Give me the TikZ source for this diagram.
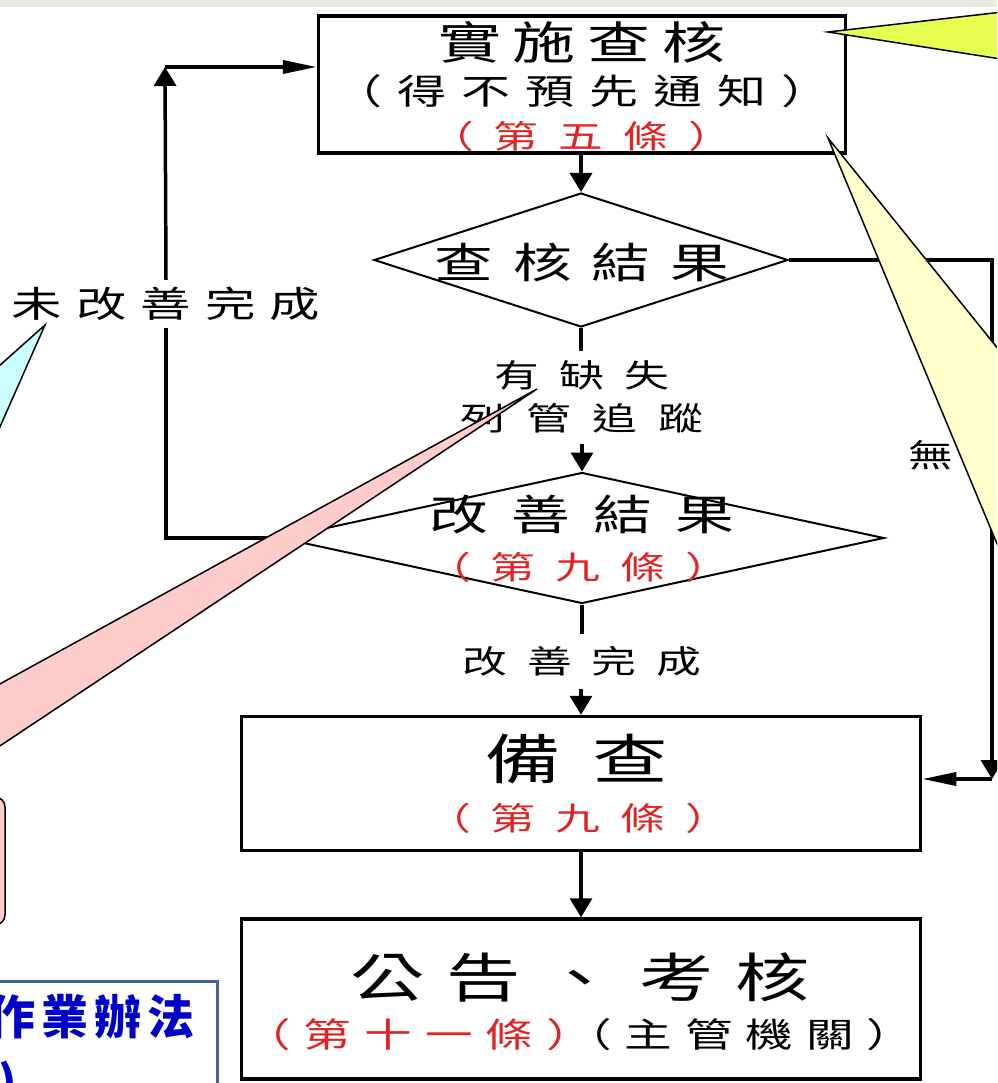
\documentclass[tikz,border=0pt]{standalone}
\usepackage{fontspec}
\usetikzlibrary{shapes.geometric,arrows.meta}
\newfontfamily\cjk[FakeStretch=1.4]{Noto Sans CJK TC}
\newfontfamily\cjkb{Noto Sans CJK TC}
\definecolor{chred}{RGB}{225,35,35}
\definecolor{beigec}{RGB}{236,233,223}
\definecolor{ygc}{RGB}{230,255,80}
\definecolor{lyc}{RGB}{255,255,204}
\definecolor{cyc}{RGB}{204,255,255}
\definecolor{pkc}{RGB}{255,204,204}
\definecolor{bbord}{RGB}{70,100,145}
\definecolor{btxt}{RGB}{0,0,200}
\makeatletter
\newcommand\spx[2]{\@tfor\spx@c:=#2\do{\spx@c\kern#1}\unkern}
\makeatother
\newcommand\fsz[2]{\fontsize{#1}{#2}\selectfont}
\tikzset{
  box/.style={draw, line width=3.5pt, inner sep=0pt},
  dia/.style={draw, diamond, line width=2pt, inner sep=0pt},
  ln/.style={line width=3.5pt},
  varr/.style={line width=3.5pt, -{Triangle[length=19pt,width=22pt]}},
  harr/.style={line width=3.5pt, -{Triangle[length=34pt,width=13pt]}},
  txt/.style={inner sep=0pt},
  lab/.style={inner xsep=4pt},
  callout/.style={draw, line width=1.5pt, line join=miter},
}
\begin{document}
\begin{tikzpicture}[x=1pt,y=-1pt]
\useasboundingbox (0,0) rectangle (997,1083);
\clip (0,0) rectangle (997,1083);
\fill[white] (0,0) rectangle (997,1083);
\fill[beigec] (0,0) rectangle (997,7);

% shapes
\node[box, minimum width=527, minimum height=137] (b1) at (582,84.5) {};
\node[dia, minimum width=414, minimum height=134] (d1) at (581,260) {};
\node[dia, minimum width=604, minimum height=131] (d2) at (582,538) {};
\node[box, minimum width=679, minimum height=134] (b3) at (581,783.5) {};
\node[box, minimum width=679, minimum height=160] (b4) at (581,999) {};

% labels on connectors
\node[lab, inner ysep=10pt, font=\cjk\fsz{32}{43}, align=center] (l1) at (582,397)
  {\spx{20pt}{有缺失}\\\spx{21pt}{列管追蹤}};
\node[lab, inner ysep=12pt, font=\cjk\fsz{32}{36}] (l2) at (582,661.5) {\spx{20pt}{改善完成}};
\node[lab, inner ysep=7pt, font=\cjk\fsz{36}{40}] (l3) at (166,304) {\spx{14pt}{未改善完成}};
\coordinate (c1) at (165,67);
\coordinate (c2) at (992,779);

% connectors
\draw[varr] (b1.south -| d1.north) -- (d1.north);
\draw[ln] (d1.south) -- (d1.south |- l1.north);
\draw[varr] (l1.south -| d2.north) -- (d2.north);
\draw[ln] (d2.south) -- (d2.south |- l2.north);
\draw[varr] (l2.south -| b3.north) -- (b3.north);
\draw[varr] (b3.south) -- (b4.north);
\draw[ln] (d2.west) -- (d2.west -| l3.south) -- (l3.south);
\draw[varr] (l3.north) -- (c1);
\draw[harr] (c1) -- (c1 -| b1.west);
\draw[varr] (d1.east) -- (d1.east -| c2) -- (c2);
\draw[harr] (c2) -- (c2 -| b3.east);

% texts
\node[txt, font=\cjk\fsz{45}{50}] (b1a) at (582,42) {\spx{12pt}{實施查核}};
\node[txt, font=\cjk\fsz{35}{40}] (b1b) at (582,91) {\spx{15pt}{（得不預先通知）}};
\node[txt, font=\cjk\fsz{32}{36}, text=chred] (b1c) at (581,136) {\spx{20pt}{（第五條）}};
\node[txt, font=\cjk\fsz{42}{46}] (d1t) at (582,262) {\spx{20pt}{查核結果}};
\node[txt, font=\cjk\fsz{42}{46}] (d2a) at (582,515) {\spx{23pt}{改善結果}};
\node[txt, font=\cjk\fsz{32}{36}, text=chred] (d2b) at (578,567) {\spx{20pt}{（第九條）}};
\node[txt, font=\cjk\fsz{32}{36}] (wu) at (931,455) {無};
\node[txt, font=\cjk\fsz{54}{58}] (b3a) at (577,759) {\spx{31pt}{備查}};
\node[txt, font=\cjk\fsz{32}{36}, text=chred] (b3b) at (578,818) {\spx{20pt}{（第九條）}};
\node[txt, font=\cjk\fsz{53}{58}] (b4a) at (580,977) {\spx{22pt}{公告、考核}};
\node[txt, font=\cjk\fsz{34}{38}] (b4b) at (579,1035)
  {{\color{chred}\spx{13pt}{（第十一條）}}\kern-30pt\spx{13pt}{（主管機關）}};

% blue box
\draw[draw=bbord, line width=3pt, fill=white] (-50,981) rectangle (217,1130);
\node[txt, font=\cjkb\bfseries\fsz{47}{50}, text=btxt, anchor=east] (bl1) at (195,1017) {\spx{6pt}{作業辦法}};
\node[txt, font=\cjkb\bfseries\fsz{47}{50}, text=btxt, anchor=base west] (bl2) at (-2,1100) {)};

% callouts
\draw[callout, fill=ygc] (828,32) -- (1020,10) -- (1020,62) -- cycle;
\draw[callout, fill=lyc] (828,138) -- (1020,376) -- (1020,599) -- cycle;
\draw[callout, fill=cyc] (45,325) -- (-20,383) -- (-20,472) -- cycle;
\draw[callout, fill=pkc, rounded corners=10pt] (-300,797) rectangle (5,925);
\draw[callout, fill=pkc] (537,389) -- (-206,797) -- (-77,797) -- cycle;
\end{tikzpicture}
\end{document}
